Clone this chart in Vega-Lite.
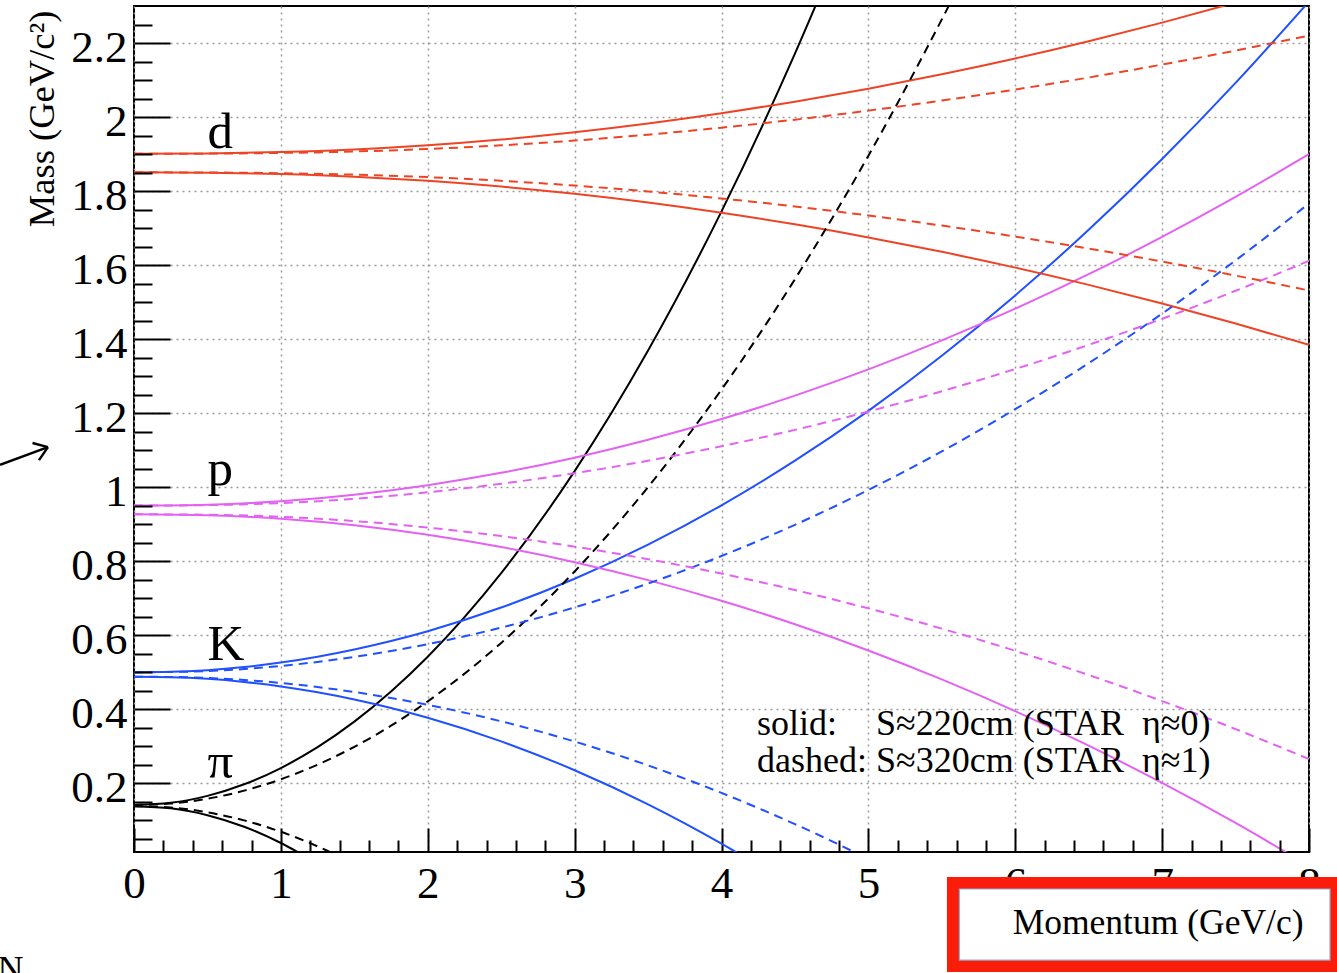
{
  "$schema": "https://vega.github.io/schema/vega-lite/v6.json",
  "width": 1175,
  "height": 846,
  "autosize": {"type": "none"},
  "padding": {"left": 134, "top": 6, "right": 28, "bottom": 121},
  "background": "white",
  "config": {
    "view": {"stroke": "black", "strokeWidth": 2},
    "axis": {"domain": false}
  },
  "resolve": {"axis": {"x": "independent", "y": "independent"}},
  "datasets": {
    "curves": [
      {"k":"pi","b":"u","s":"s","p":0,"m":0.1413},{"k":"pi","b":"u","s":"s","p":0.25,"m":0.1470},{"k":"pi","b":"u","s":"s","p":0.5,"m":0.1657},{"k":"pi","b":"u","s":"s","p":0.75,"m":0.1970},{"k":"pi","b":"u","s":"s","p":1,"m":0.2409},{"k":"pi","b":"u","s":"s","p":1.25,"m":0.2973},{"k":"pi","b":"u","s":"s","p":1.5,"m":0.3662},{"k":"pi","b":"u","s":"s","p":1.75,"m":0.4477},{"k":"pi","b":"u","s":"s","p":2,"m":0.5417},{"k":"pi","b":"u","s":"s","p":2.5,"m":0.7674},{"k":"pi","b":"u","s":"s","p":3,"m":1.0432},{"k":"pi","b":"u","s":"s","p":3.5,"m":1.3691},{"k":"pi","b":"u","s":"s","p":4,"m":1.7451},{"k":"pi","b":"u","s":"s","p":4.5,"m":2.1714},{"k":"pi","b":"u","s":"s","p":4.75,"m":2.4033},
      {"k":"pi","b":"l","s":"s","p":0,"m":0.1379},{"k":"pi","b":"l","s":"s","p":0.25,"m":0.1322},{"k":"pi","b":"l","s":"s","p":0.5,"m":0.1135},{"k":"pi","b":"l","s":"s","p":0.75,"m":0.0822},{"k":"pi","b":"l","s":"s","p":1,"m":0.0383},{"k":"pi","b":"l","s":"s","p":1.2,"m":-0.0058},
      {"k":"pi","b":"u","s":"d","p":0,"m":0.1413},{"k":"pi","b":"u","s":"d","p":0.25,"m":0.1449},{"k":"pi","b":"u","s":"d","p":0.5,"m":0.1579},{"k":"pi","b":"u","s":"d","p":0.75,"m":0.1798},{"k":"pi","b":"u","s":"d","p":1,"m":0.2105},{"k":"pi","b":"u","s":"d","p":1.25,"m":0.2500},{"k":"pi","b":"u","s":"d","p":1.5,"m":0.2982},{"k":"pi","b":"u","s":"d","p":1.75,"m":0.3553},{"k":"pi","b":"u","s":"d","p":2,"m":0.4211},{"k":"pi","b":"u","s":"d","p":2.5,"m":0.5790},{"k":"pi","b":"u","s":"d","p":3,"m":0.7721},{"k":"pi","b":"u","s":"d","p":3.5,"m":1.0002},{"k":"pi","b":"u","s":"d","p":4,"m":1.2635},{"k":"pi","b":"u","s":"d","p":4.5,"m":1.5619},{"k":"pi","b":"u","s":"d","p":5,"m":1.8953},{"k":"pi","b":"u","s":"d","p":5.5,"m":2.2638},{"k":"pi","b":"u","s":"d","p":6,"m":2.6675},
      {"k":"pi","b":"l","s":"d","p":0,"m":0.1379},{"k":"pi","b":"l","s":"d","p":0.25,"m":0.1343},{"k":"pi","b":"l","s":"d","p":0.5,"m":0.1213},{"k":"pi","b":"l","s":"d","p":0.75,"m":0.0994},{"k":"pi","b":"l","s":"d","p":1,"m":0.0687},{"k":"pi","b":"l","s":"d","p":1.25,"m":0.0292},{"k":"pi","b":"l","s":"d","p":1.5,"m":-0.0190},
      {"k":"K","b":"u","s":"s","p":0,"m":0.4999},{"k":"K","b":"u","s":"s","p":0.25,"m":0.5010},{"k":"K","b":"u","s":"s","p":0.5,"m":0.5054},{"k":"K","b":"u","s":"s","p":0.75,"m":0.5138},{"k":"K","b":"u","s":"s","p":1,"m":0.5259},{"k":"K","b":"u","s":"s","p":1.25,"m":0.5417},{"k":"K","b":"u","s":"s","p":1.5,"m":0.5612},{"k":"K","b":"u","s":"s","p":1.75,"m":0.5841},{"k":"K","b":"u","s":"s","p":2,"m":0.6107},{"k":"K","b":"u","s":"s","p":2.5,"m":0.6745},{"k":"K","b":"u","s":"s","p":3,"m":0.7524},{"k":"K","b":"u","s":"s","p":3.5,"m":0.8446},{"k":"K","b":"u","s":"s","p":4,"m":0.9509},{"k":"K","b":"u","s":"s","p":4.5,"m":1.0714},{"k":"K","b":"u","s":"s","p":5,"m":1.2061},{"k":"K","b":"u","s":"s","p":5.5,"m":1.3550},{"k":"K","b":"u","s":"s","p":6,"m":1.5180},{"k":"K","b":"u","s":"s","p":6.5,"m":1.6953},{"k":"K","b":"u","s":"s","p":7,"m":1.8867},{"k":"K","b":"u","s":"s","p":7.5,"m":2.0923},{"k":"K","b":"u","s":"s","p":8,"m":2.3120},
      {"k":"K","b":"l","s":"s","p":0,"m":0.4875},{"k":"K","b":"l","s":"s","p":0.25,"m":0.4864},{"k":"K","b":"l","s":"s","p":0.5,"m":0.4820},{"k":"K","b":"l","s":"s","p":0.75,"m":0.4736},{"k":"K","b":"l","s":"s","p":1,"m":0.4615},{"k":"K","b":"l","s":"s","p":1.25,"m":0.4457},{"k":"K","b":"l","s":"s","p":1.5,"m":0.4263},{"k":"K","b":"l","s":"s","p":1.75,"m":0.4033},{"k":"K","b":"l","s":"s","p":2,"m":0.3767},{"k":"K","b":"l","s":"s","p":2.5,"m":0.3129},{"k":"K","b":"l","s":"s","p":3,"m":0.2350},{"k":"K","b":"l","s":"s","p":3.5,"m":0.1428},{"k":"K","b":"l","s":"s","p":3.75,"m":0.0914},{"k":"K","b":"l","s":"s","p":4,"m":0.0365},{"k":"K","b":"l","s":"s","p":4.25,"m":-0.0220},
      {"k":"K","b":"u","s":"d","p":0,"m":0.4999},{"k":"K","b":"u","s":"d","p":0.25,"m":0.5005},{"k":"K","b":"u","s":"d","p":0.5,"m":0.5030},{"k":"K","b":"u","s":"d","p":0.75,"m":0.5084},{"k":"K","b":"u","s":"d","p":1,"m":0.5167},{"k":"K","b":"u","s":"d","p":1.25,"m":0.5276},{"k":"K","b":"u","s":"d","p":1.5,"m":0.5411},{"k":"K","b":"u","s":"d","p":1.75,"m":0.5572},{"k":"K","b":"u","s":"d","p":2,"m":0.5757},{"k":"K","b":"u","s":"d","p":2.5,"m":0.6203},{"k":"K","b":"u","s":"d","p":3,"m":0.6749},{"k":"K","b":"u","s":"d","p":3.5,"m":0.7394},{"k":"K","b":"u","s":"d","p":4,"m":0.8138},{"k":"K","b":"u","s":"d","p":4.5,"m":0.8981},{"k":"K","b":"u","s":"d","p":5,"m":0.9924},{"k":"K","b":"u","s":"d","p":5.5,"m":1.0966},{"k":"K","b":"u","s":"d","p":6,"m":1.2107},{"k":"K","b":"u","s":"d","p":6.5,"m":1.3348},{"k":"K","b":"u","s":"d","p":7,"m":1.4688},{"k":"K","b":"u","s":"d","p":7.5,"m":1.6127},{"k":"K","b":"u","s":"d","p":8,"m":1.7665},
      {"k":"K","b":"l","s":"d","p":0,"m":0.4875},{"k":"K","b":"l","s":"d","p":0.25,"m":0.4870},{"k":"K","b":"l","s":"d","p":0.5,"m":0.4844},{"k":"K","b":"l","s":"d","p":0.75,"m":0.4790},{"k":"K","b":"l","s":"d","p":1,"m":0.4707},{"k":"K","b":"l","s":"d","p":1.25,"m":0.4598},{"k":"K","b":"l","s":"d","p":1.5,"m":0.4463},{"k":"K","b":"l","s":"d","p":1.75,"m":0.4302},{"k":"K","b":"l","s":"d","p":2,"m":0.4117},{"k":"K","b":"l","s":"d","p":2.5,"m":0.3671},{"k":"K","b":"l","s":"d","p":3,"m":0.3125},{"k":"K","b":"l","s":"d","p":3.5,"m":0.2481},{"k":"K","b":"l","s":"d","p":4,"m":0.1736},{"k":"K","b":"l","s":"d","p":4.25,"m":0.1327},{"k":"K","b":"l","s":"d","p":4.5,"m":0.0893},{"k":"K","b":"l","s":"d","p":4.75,"m":0.0434},{"k":"K","b":"l","s":"d","p":5,"m":-0.0050},
      {"k":"p","b":"u","s":"s","p":0,"m":0.9500},{"k":"p","b":"u","s":"s","p":0.5,"m":0.9525},{"k":"p","b":"u","s":"s","p":1,"m":0.9619},{"k":"p","b":"u","s":"s","p":1.5,"m":0.9796},{"k":"p","b":"u","s":"s","p":2,"m":1.0053},{"k":"p","b":"u","s":"s","p":2.5,"m":1.0386},{"k":"p","b":"u","s":"s","p":3,"m":1.0795},{"k":"p","b":"u","s":"s","p":3.5,"m":1.1279},{"k":"p","b":"u","s":"s","p":4,"m":1.1838},{"k":"p","b":"u","s":"s","p":4.5,"m":1.2472},{"k":"p","b":"u","s":"s","p":5,"m":1.3180},{"k":"p","b":"u","s":"s","p":5.5,"m":1.3963},{"k":"p","b":"u","s":"s","p":6,"m":1.4821},{"k":"p","b":"u","s":"s","p":6.5,"m":1.5753},{"k":"p","b":"u","s":"s","p":7,"m":1.6760},{"k":"p","b":"u","s":"s","p":7.5,"m":1.7842},{"k":"p","b":"u","s":"s","p":8,"m":1.8998},
      {"k":"p","b":"l","s":"s","p":0,"m":0.9266},{"k":"p","b":"l","s":"s","p":0.5,"m":0.9241},{"k":"p","b":"l","s":"s","p":1,"m":0.9147},{"k":"p","b":"l","s":"s","p":1.5,"m":0.8970},{"k":"p","b":"l","s":"s","p":2,"m":0.8713},{"k":"p","b":"l","s":"s","p":2.5,"m":0.8380},{"k":"p","b":"l","s":"s","p":3,"m":0.7971},{"k":"p","b":"l","s":"s","p":3.5,"m":0.7487},{"k":"p","b":"l","s":"s","p":4,"m":0.6928},{"k":"p","b":"l","s":"s","p":4.5,"m":0.6294},{"k":"p","b":"l","s":"s","p":5,"m":0.5586},{"k":"p","b":"l","s":"s","p":5.5,"m":0.4803},{"k":"p","b":"l","s":"s","p":6,"m":0.3945},{"k":"p","b":"l","s":"s","p":6.5,"m":0.3013},{"k":"p","b":"l","s":"s","p":7,"m":0.2006},{"k":"p","b":"l","s":"s","p":7.5,"m":0.0924},{"k":"p","b":"l","s":"s","p":8,"m":-0.0232},
      {"k":"p","b":"u","s":"d","p":0,"m":0.9500},{"k":"p","b":"u","s":"d","p":0.5,"m":0.9513},{"k":"p","b":"u","s":"d","p":1,"m":0.9568},{"k":"p","b":"u","s":"d","p":1.5,"m":0.9684},{"k":"p","b":"u","s":"d","p":2,"m":0.9859},{"k":"p","b":"u","s":"d","p":2.5,"m":1.0090},{"k":"p","b":"u","s":"d","p":3,"m":1.0375},{"k":"p","b":"u","s":"d","p":3.5,"m":1.0713},{"k":"p","b":"u","s":"d","p":4,"m":1.1104},{"k":"p","b":"u","s":"d","p":4.5,"m":1.1547},{"k":"p","b":"u","s":"d","p":5,"m":1.2042},{"k":"p","b":"u","s":"d","p":5.5,"m":1.2590},{"k":"p","b":"u","s":"d","p":6,"m":1.3191},{"k":"p","b":"u","s":"d","p":6.5,"m":1.3843},{"k":"p","b":"u","s":"d","p":7,"m":1.4548},{"k":"p","b":"u","s":"d","p":7.5,"m":1.5305},{"k":"p","b":"u","s":"d","p":8,"m":1.6114},
      {"k":"p","b":"l","s":"d","p":0,"m":0.9266},{"k":"p","b":"l","s":"d","p":0.5,"m":0.9253},{"k":"p","b":"l","s":"d","p":1,"m":0.9198},{"k":"p","b":"l","s":"d","p":1.5,"m":0.9082},{"k":"p","b":"l","s":"d","p":2,"m":0.8907},{"k":"p","b":"l","s":"d","p":2.5,"m":0.8676},{"k":"p","b":"l","s":"d","p":3,"m":0.8391},{"k":"p","b":"l","s":"d","p":3.5,"m":0.8053},{"k":"p","b":"l","s":"d","p":4,"m":0.7663},{"k":"p","b":"l","s":"d","p":4.5,"m":0.7219},{"k":"p","b":"l","s":"d","p":5,"m":0.6724},{"k":"p","b":"l","s":"d","p":5.5,"m":0.6176},{"k":"p","b":"l","s":"d","p":6,"m":0.5576},{"k":"p","b":"l","s":"d","p":6.5,"m":0.4923},{"k":"p","b":"l","s":"d","p":7,"m":0.4218},{"k":"p","b":"l","s":"d","p":7.5,"m":0.3461},{"k":"p","b":"l","s":"d","p":8,"m":0.2652},
      {"k":"d","b":"u","s":"s","p":0,"m":1.9006},{"k":"d","b":"u","s":"s","p":0.5,"m":1.9016},{"k":"d","b":"u","s":"s","p":1,"m":1.9052},{"k":"d","b":"u","s":"s","p":1.5,"m":1.9123},{"k":"d","b":"u","s":"s","p":2,"m":1.9236},{"k":"d","b":"u","s":"s","p":2.5,"m":1.9391},{"k":"d","b":"u","s":"s","p":3,"m":1.9587},{"k":"d","b":"u","s":"s","p":3.5,"m":1.9823},{"k":"d","b":"u","s":"s","p":4,"m":2.0099},{"k":"d","b":"u","s":"s","p":4.5,"m":2.0413},{"k":"d","b":"u","s":"s","p":5,"m":2.0765},{"k":"d","b":"u","s":"s","p":5.5,"m":2.1155},{"k":"d","b":"u","s":"s","p":6,"m":2.1582},{"k":"d","b":"u","s":"s","p":6.5,"m":2.2048},{"k":"d","b":"u","s":"s","p":7,"m":2.2551},{"k":"d","b":"u","s":"s","p":7.5,"m":2.3091},{"k":"d","b":"u","s":"s","p":8,"m":2.3669},
      {"k":"d","b":"l","s":"s","p":0,"m":1.8506},{"k":"d","b":"l","s":"s","p":0.5,"m":1.8496},{"k":"d","b":"l","s":"s","p":1,"m":1.8460},{"k":"d","b":"l","s":"s","p":1.5,"m":1.8389},{"k":"d","b":"l","s":"s","p":2,"m":1.8276},{"k":"d","b":"l","s":"s","p":2.5,"m":1.8122},{"k":"d","b":"l","s":"s","p":3,"m":1.7925},{"k":"d","b":"l","s":"s","p":3.5,"m":1.7689},{"k":"d","b":"l","s":"s","p":4,"m":1.7414},{"k":"d","b":"l","s":"s","p":4.5,"m":1.7100},{"k":"d","b":"l","s":"s","p":5,"m":1.6747},{"k":"d","b":"l","s":"s","p":5.5,"m":1.6357},{"k":"d","b":"l","s":"s","p":6,"m":1.5930},{"k":"d","b":"l","s":"s","p":6.5,"m":1.5464},{"k":"d","b":"l","s":"s","p":7,"m":1.4961},{"k":"d","b":"l","s":"s","p":7.5,"m":1.4421},{"k":"d","b":"l","s":"s","p":8,"m":1.3843},
      {"k":"d","b":"u","s":"d","p":0,"m":1.9006},{"k":"d","b":"u","s":"d","p":0.5,"m":1.9011},{"k":"d","b":"u","s":"d","p":1,"m":1.9030},{"k":"d","b":"u","s":"d","p":1.5,"m":1.9069},{"k":"d","b":"u","s":"d","p":2,"m":1.9136},{"k":"d","b":"u","s":"d","p":2.5,"m":1.9235},{"k":"d","b":"u","s":"d","p":3,"m":1.9364},{"k":"d","b":"u","s":"d","p":3.5,"m":1.9524},{"k":"d","b":"u","s":"d","p":4,"m":1.9713},{"k":"d","b":"u","s":"d","p":4.5,"m":1.9929},{"k":"d","b":"u","s":"d","p":5,"m":2.0173},{"k":"d","b":"u","s":"d","p":5.5,"m":2.0445},{"k":"d","b":"u","s":"d","p":6,"m":2.0743},{"k":"d","b":"u","s":"d","p":6.5,"m":2.1067},{"k":"d","b":"u","s":"d","p":7,"m":2.1418},{"k":"d","b":"u","s":"d","p":7.5,"m":2.1796},{"k":"d","b":"u","s":"d","p":8,"m":2.2200},
      {"k":"d","b":"l","s":"d","p":0,"m":1.8506},{"k":"d","b":"l","s":"d","p":0.5,"m":1.8501},{"k":"d","b":"l","s":"d","p":1,"m":1.8482},{"k":"d","b":"l","s":"d","p":1.5,"m":1.8443},{"k":"d","b":"l","s":"d","p":2,"m":1.8376},{"k":"d","b":"l","s":"d","p":2.5,"m":1.8277},{"k":"d","b":"l","s":"d","p":3,"m":1.8148},{"k":"d","b":"l","s":"d","p":3.5,"m":1.7988},{"k":"d","b":"l","s":"d","p":4,"m":1.7799},{"k":"d","b":"l","s":"d","p":4.5,"m":1.7583},{"k":"d","b":"l","s":"d","p":5,"m":1.7339},{"k":"d","b":"l","s":"d","p":5.5,"m":1.7067},{"k":"d","b":"l","s":"d","p":6,"m":1.6769},{"k":"d","b":"l","s":"d","p":6.5,"m":1.6445},{"k":"d","b":"l","s":"d","p":7,"m":1.6094},{"k":"d","b":"l","s":"d","p":7.5,"m":1.5716},{"k":"d","b":"l","s":"d","p":8,"m":1.5312}
    ]
  },
  "layer": [
    {
      "data": {"values": [{"p": 5.576, "p2": 8.184, "m": -0.0698, "m2": -0.294}]},
      "mark": {"type": "rect", "fill": "white", "stroke": "#fb1c0a", "strokeWidth": 12},
      "encoding": {
        "x": {"field": "p", "type": "quantitative", "scale": {"domain": [0, 8], "nice": false, "zero": false}, "axis": null},
        "x2": {"field": "p2"},
        "y": {"field": "m", "type": "quantitative", "scale": {"domain": [0.014, 2.3], "nice": false, "zero": false}, "axis": null},
        "y2": {"field": "m2"}
      }
    },
    {
      "data": {"values": [{"p": 5.62, "p2": 8.143, "m": -0.086, "m2": -0.278}]},
      "mark": {"type": "rect", "fill": null, "stroke": "#8aaed6", "strokeWidth": 1.2},
      "encoding": {
        "x": {"field": "p", "type": "quantitative", "scale": {"domain": [0, 8], "nice": false, "zero": false}, "axis": null},
        "x2": {"field": "p2"},
        "y": {"field": "m", "type": "quantitative", "scale": {"domain": [0.014, 2.3], "nice": false, "zero": false}, "axis": null},
        "y2": {"field": "m2"}
      }
    },
    {
      "data": {"name": "curves"},
      "transform": [{"filter": "datum.s == 's'"}],
      "mark": {"type": "line", "clip": true, "interpolate": "monotone", "strokeWidth": 2},
      "encoding": {
        "x": {"field": "p", "type": "quantitative", "scale": {"domain": [0, 8], "nice": false, "zero": false},
          "axis": {"orient": "bottom", "values": [0,1,2,3,4,5,6,7,8], "format": "d", "grid": true, "gridColor": "#9a9a9a", "gridDash": [2, 4], "gridWidth": 1.5, "ticks": false, "tickSize": 0, "domain": false, "labels": true, "labelFont": "Liberation Serif", "labelFontSize": 45, "labelColor": "black", "labelBaseline": "alphabetic", "labelPadding": 45, "labelFlush": false, "labelOverlap": false, "title": null}},
        "y": {"field": "m", "type": "quantitative", "scale": {"domain": [0.014, 2.3], "nice": false, "zero": false},
          "axis": {"orient": "left", "values": [0.2,0.4,0.6,0.8,1,1.2,1.4,1.6,1.8,2,2.2], "format": "~g", "grid": true, "gridColor": "#9a9a9a", "gridDash": [2, 4], "gridWidth": 1.5, "ticks": false, "tickSize": 0, "domain": false, "labels": true, "labelFont": "Liberation Serif", "labelFontSize": 45, "labelColor": "black", "labelAlign": "right", "labelBaseline": "alphabetic", "labelOffset": 18, "labelPadding": 7, "labelFlush": false, "labelOverlap": false, "title": null}},
        "color": {"field": "k", "type": "nominal", "scale": {"domain": ["pi", "K", "p", "d"], "range": ["#000000", "#2050ff", "#e462f2", "#ee4426"]}, "legend": null},
        "detail": {"field": "b"}
      }
    },
    {
      "data": {"name": "curves"},
      "transform": [{"filter": "datum.s == 'd'"}],
      "mark": {"type": "line", "clip": true, "interpolate": "monotone", "strokeWidth": 2, "strokeDash": [9, 6]},
      "encoding": {
        "x": {"field": "p", "type": "quantitative", "scale": {"domain": [0, 8], "nice": false, "zero": false},
          "axis": {"orient": "bottom", "values": [0,1,2,3,4,5,6,7,8], "grid": false, "domain": false, "labels": false, "ticks": true, "tickSize": -24, "tickWidth": 2, "tickColor": "black", "title": null}},
        "y": {"field": "m", "type": "quantitative", "scale": {"domain": [0.014, 2.3], "nice": false, "zero": false},
          "axis": {"orient": "left", "values": [0.2,0.4,0.6,0.8,1,1.2,1.4,1.6,1.8,2,2.2], "grid": false, "domain": false, "labels": false, "ticks": true, "tickSize": -36, "tickWidth": 2, "tickColor": "black", "title": null}},
        "color": {"field": "k", "type": "nominal", "scale": {"domain": ["pi", "K", "p", "d"], "range": ["#000000", "#2050ff", "#e462f2", "#ee4426"]}, "legend": null},
        "detail": {"field": "b"}
      }
    },
    {
      "data": {"values": [
        {"t": "d", "p": 0.5, "m": 1.916},
        {"t": "p", "p": 0.5, "m": 1.006},
        {"t": "K", "p": 0.5, "m": 0.533},
        {"t": "π", "p": 0.5, "m": 0.214}
      ]},
      "mark": {"type": "text", "font": "Liberation Serif", "fontSize": 51, "align": "left", "baseline": "alphabetic", "color": "black"},
      "encoding": {
        "x": {"field": "p", "type": "quantitative", "scale": {"domain": [0, 8], "nice": false, "zero": false},
          "axis": {"orient": "bottom", "values": [0.2,0.4,0.6,0.8,1.2,1.4,1.6,1.8,2.2,2.4,2.6,2.8,3.2,3.4,3.6,3.8,4.2,4.4,4.6,4.8,5.2,5.4,5.6,5.8,6.2,6.4,6.6,6.8,7.2,7.4,7.6,7.8], "grid": false, "domain": false, "labels": false, "ticks": true, "tickSize": -12, "tickWidth": 2, "tickColor": "black", "zindex": 1,
            "title": "Momentum (GeV/c)", "titleFont": "Liberation Serif", "titleFontSize": 35.5, "titleFontWeight": "normal", "titleColor": "black", "titleAnchor": "end", "titleAlign": "right", "titleBaseline": "alphabetic", "titleX": 1169, "titleY": 81}},
        "y": {"field": "m", "type": "quantitative", "scale": {"domain": [0.014, 2.3], "nice": false, "zero": false},
          "axis": {"orient": "left", "values": [0.05,0.1,0.15,0.25,0.3,0.35,0.45,0.5,0.55,0.65,0.7,0.75,0.85,0.9,0.95,1.05,1.1,1.15,1.25,1.3,1.35,1.45,1.5,1.55,1.65,1.7,1.75,1.85,1.9,1.95,2.05,2.1,2.15,2.25], "grid": false, "domain": false, "labels": false, "ticks": true, "tickSize": -18, "tickWidth": 2, "tickColor": "black", "zindex": 1,
            "title": "Mass (GeV/c²)", "titleFont": "Liberation Serif", "titleFontSize": 36.5, "titleFontWeight": "normal", "titleColor": "black", "titleAnchor": "end", "titleAlign": "right", "titleAngle": 270, "titleBaseline": "alphabetic", "titleX": -81, "titleY": 4}},
        "text": {"field": "t"}
      }
    },
    {
      "data": {"values": [
        {"t": "solid:", "p": 4.242, "m": 0.330},
        {"t": "S≈220cm (STAR\u00a0 η≈0)", "p": 5.052, "m": 0.330},
        {"t": "dashed:", "p": 4.242, "m": 0.230},
        {"t": "S≈320cm (STAR\u00a0 η≈1)", "p": 5.052, "m": 0.230}
      ]},
      "mark": {"type": "text", "font": "Liberation Serif", "fontSize": 36, "align": "left", "baseline": "alphabetic", "color": "black"},
      "encoding": {
        "x": {"field": "p", "type": "quantitative", "scale": {"domain": [0, 8], "nice": false, "zero": false}, "axis": null},
        "y": {"field": "m", "type": "quantitative", "scale": {"domain": [0.014, 2.3], "nice": false, "zero": false}, "axis": null},
        "text": {"field": "t"}
      }
    },
    {
      "data": {"values": [
        {"g": "shaft", "p": -0.912, "m": 1.060}, {"g": "shaft", "p": -0.586, "m": 1.108},
        {"g": "barb1", "p": -0.691, "m": 1.119}, {"g": "barb1", "p": -0.586, "m": 1.108},
        {"g": "barb2", "p": -0.647, "m": 1.073}, {"g": "barb2", "p": -0.586, "m": 1.108}
      ]},
      "mark": {"type": "line", "color": "black", "strokeWidth": 2.5},
      "encoding": {
        "x": {"field": "p", "type": "quantitative", "scale": {"domain": [0, 8], "nice": false, "zero": false}, "axis": null},
        "y": {"field": "m", "type": "quantitative", "scale": {"domain": [0.014, 2.3], "nice": false, "zero": false}, "axis": null},
        "detail": {"field": "g"}
      }
    },
    {
      "data": {"values": [{"t": "N", "p": -0.93, "m": -0.335}]},
      "mark": {"type": "text", "font": "Liberation Serif", "fontSize": 36, "align": "left", "baseline": "alphabetic", "color": "black"},
      "encoding": {
        "x": {"field": "p", "type": "quantitative", "scale": {"domain": [0, 8], "nice": false, "zero": false}, "axis": null},
        "y": {"field": "m", "type": "quantitative", "scale": {"domain": [0.014, 2.3], "nice": false, "zero": false}, "axis": null},
        "text": {"field": "t"}
      }
    }
  ]
}
